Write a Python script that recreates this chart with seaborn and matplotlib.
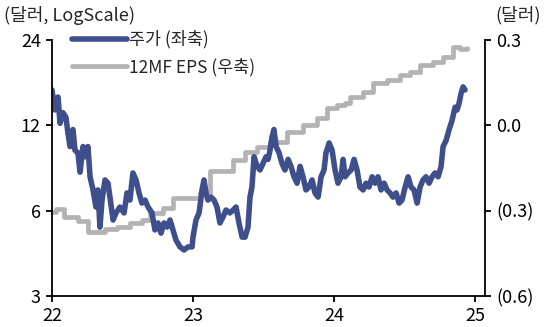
import seaborn as sns
import matplotlib.pyplot as plt
import pandas as pd

# share price (USD), x in years since 2000
price_t = [
    22.000, 22.021, 22.043, 22.057, 22.078, 22.099, 22.113, 22.128, 22.149, 22.163,
    22.184, 22.199, 22.220, 22.234, 22.255, 22.270, 22.291, 22.312, 22.326, 22.340,
    22.355, 22.376, 22.397, 22.411, 22.433, 22.454, 22.482, 22.511, 22.532, 22.553,
    22.574, 22.596, 22.617, 22.638, 22.660, 22.681, 22.709, 22.730, 22.752, 22.773,
    22.794, 22.816, 22.837, 22.858, 22.879, 22.908, 22.936, 22.965, 22.993, 23.000,
    23.021, 23.043, 23.064, 23.078, 23.092, 23.106, 23.128, 23.149, 23.170, 23.191,
    23.213, 23.234, 23.262, 23.284, 23.305, 23.326, 23.348, 23.369, 23.390, 23.404,
    23.418, 23.433, 23.454, 23.475, 23.496, 23.518, 23.532, 23.546, 23.560, 23.574,
    23.589, 23.610, 23.631, 23.652, 23.674, 23.695, 23.716, 23.738, 23.759, 23.780,
    23.801, 23.823, 23.844, 23.865, 23.887, 23.908, 23.929, 23.943, 23.965, 23.986,
    24.007, 24.028, 24.050, 24.064, 24.078, 24.099, 24.121, 24.142, 24.163, 24.184,
    24.206, 24.227, 24.248, 24.270, 24.291, 24.312, 24.333, 24.355, 24.376, 24.397,
    24.418, 24.440, 24.461, 24.482, 24.504, 24.525, 24.546, 24.567, 24.589, 24.610,
    24.631, 24.652, 24.674, 24.695, 24.716, 24.738, 24.759, 24.773, 24.794, 24.816,
    24.837, 24.858, 24.872, 24.887, 24.901, 24.915, 24.929,
]
price = [
    16.0, 13.6, 15.1, 12.2, 13.3, 12.8, 11.3, 10.1, 11.6, 9.8,
    9.6, 8.2, 10.1, 9.3, 10.1, 7.9, 7.1, 6.18, 7.1, 5.25,
    6.54, 7.7, 7.5, 6.7, 5.56, 5.89, 6.18, 5.89, 6.93, 6.54,
    8.15, 7.7, 6.93, 6.38, 6.54, 6.18, 5.89, 5.13, 5.43, 5.00,
    5.43, 5.25, 5.56, 5.13, 4.73, 4.47, 4.36, 4.47, 4.47, 4.84,
    5.56, 5.89, 7.1, 7.7, 6.93, 6.54, 6.7, 6.54, 6.18, 5.43,
    5.70, 6.03, 5.89, 6.03, 6.18, 5.43, 4.84, 4.84, 5.25, 6.7,
    7.27, 9.3, 8.6, 8.35, 8.8, 9.3, 9.1, 9.8, 10.9, 11.6,
    10.1, 9.6, 8.8, 8.35, 9.1, 8.6, 7.9, 7.5, 8.6, 7.9,
    7.1, 7.27, 7.7, 6.93, 6.7, 7.9, 8.35, 9.6, 10.4, 9.8,
    8.35, 7.5, 7.9, 9.1, 7.9, 8.15, 8.35, 9.1, 8.35, 7.27,
    7.1, 7.5, 7.27, 7.9, 7.5, 7.9, 7.1, 7.5, 7.1, 6.93,
    6.7, 6.93, 6.38, 6.54, 7.27, 7.9, 7.27, 7.1, 6.38, 7.27,
    7.7, 7.9, 7.5, 7.9, 8.15, 7.9, 8.6, 10.1, 10.6, 11.6,
    12.5, 13.9, 13.6, 14.4, 15.6, 16.4, 16.0,
]

# 12M forward EPS (USD)
eps_t = [
    22.000, 22.028, 22.085, 22.184, 22.255, 22.376, 22.461, 22.553, 22.638, 22.695,
    22.787, 22.858, 23.050, 23.121, 23.284, 23.369, 23.454, 23.546, 23.667, 23.780,
    23.879, 23.950, 24.021, 24.078, 24.113, 24.206, 24.277, 24.376, 24.468, 24.539,
    24.610, 24.702, 24.773, 24.844, 24.894, 24.943,
]
eps = [
    -0.305, -0.294, -0.322, -0.336, -0.375, -0.365, -0.358, -0.344, -0.333, -0.308,
    -0.291, -0.256, -0.238, -0.161, -0.122, -0.094, -0.076, -0.059, -0.023, 0.001,
    0.026, 0.061, 0.071, 0.078, 0.100, 0.117, 0.149, 0.159, 0.177, 0.187,
    0.212, 0.223, 0.240, 0.275, 0.268, 0.272,
]

year_ticks = [22, 23, 24, 25]
price_ticks = [3, 6, 12, 24]
eps_ticks = [-0.6, -0.3, 0.0, 0.3]
eps_labels = ["(0.6)", "(0.3)", "0.0", "0.3"]

navy = "#3F4F8C"
grey = "#B3B3B3"

sns.set_theme(style="ticks")
plt.rcParams['font.family'] = ['Noto Sans CJK KR', 'DejaVu Sans']

fig = plt.figure(figsize=(5.46, 3.27), dpi=100)
ax = fig.add_axes([0.0952, 0.0948, 0.7930, 0.7829])
ax2 = ax.twinx()

df_price = pd.DataFrame({"t": price_t, "price": price})
df_eps = pd.DataFrame({"t": eps_t, "eps": eps})

sns.lineplot(data=df_eps, x="t", y="eps", ax=ax2, color=grey, lw=3.4,
             drawstyle="steps-post", legend=False)
sns.lineplot(data=df_price, x="t", y="price", ax=ax, color=navy, lw=4.0,
             legend=False, solid_joinstyle="round", solid_capstyle="round")

# price line over the eps line
ax.set_zorder(ax2.get_zorder() + 1)
ax.patch.set_visible(False)

ax.set_yscale("log", base=2)
ax.set_ylim(3, 24)
ax.set_yticks(price_ticks)
ax.set_yticklabels([str(v) for v in price_ticks])
ax.minorticks_off()
ax.set_xlim(22, 25.07)
ax.set_xticks(year_ticks)
ax.set_xticklabels([str(v) for v in year_ticks])

ax2.set_ylim(-0.6, 0.3)
ax2.set_yticks(eps_ticks)
ax2.set_yticklabels(eps_labels)

for a in (ax, ax2):
    a.set_xlabel("")
    a.set_ylabel("")
    a.spines["top"].set_visible(False)
    for s in ("left", "right", "bottom"):
        a.spines[s].set_linewidth(1.3)
        a.spines[s].set_color("black")
    a.tick_params(direction="out", length=4, width=1.3, labelsize=13,
                  colors="black", pad=4)
ax.spines["right"].set_visible(False)
ax2.spines["left"].set_visible(False)
ax2.spines["bottom"].set_visible(False)

h1 = plt.Line2D([], [], color=navy, lw=4.0, solid_capstyle="round")
h2 = plt.Line2D([], [], color=grey, lw=3.4, solid_capstyle="round")
ax.legend([h1, h2], ["주가 (좌축)", "12MF EPS (우축)"], loc="upper left",
          bbox_to_anchor=(0.03, 1.065), frameon=False, fontsize=12.5,
          handlelength=3.2, handletextpad=0.1, labelspacing=0.5,
          borderaxespad=0)

fig.text(0.008, 0.952, "(달러, LogScale)", fontsize=13, va="center", ha="left")
fig.text(0.908, 0.952, "(달러)", fontsize=13, va="center", ha="left")

fig.savefig("out.png", dpi=100)
